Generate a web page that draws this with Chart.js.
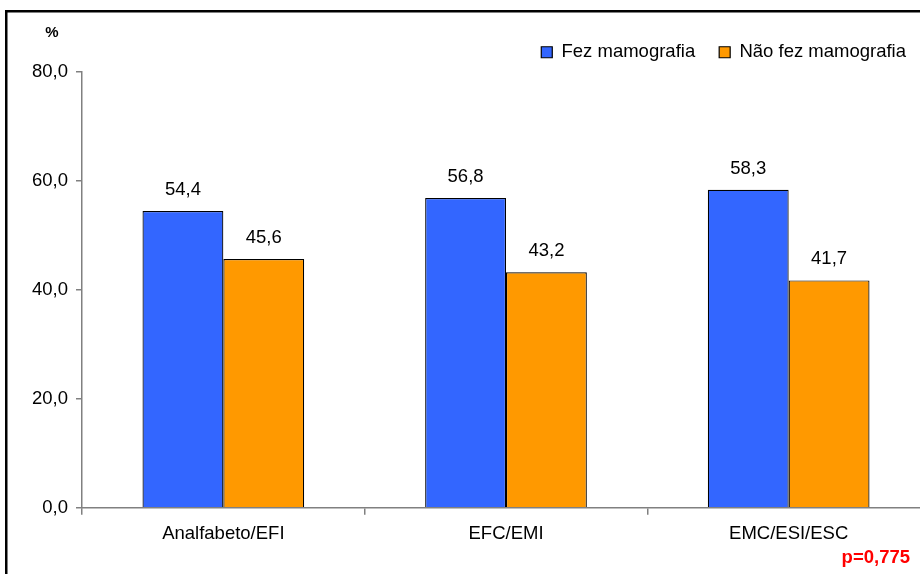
<!DOCTYPE html>
<html>
<head>
<meta charset="utf-8">
<script src="https://cdn.jsdelivr.net/npm/chart.js@4/dist/chart.umd.min.js"></script>
<style>
  html, body { margin: 0; padding: 0; background: #fff; overflow: hidden; }
  #wrap { width: 930px; height: 574px; position: relative; }
</style>
</head>
<body>
<div id="wrap"><canvas id="c"></canvas></div>
<script>
// Education level groups
const categories = ['Analfabeto/EFI', 'EFC/EMI', 'EMC/ESI/ESC'];
// Share of women (%) in each group
const fezMamografia = [54.4, 56.8, 58.3];
const naoFezMamografia = [45.6, 43.2, 41.7];
const seriesNames = ['Fez mamografia', 'Não fez mamografia'];
const yTicks = [0, 20, 40, 60, 80];
const axisUnit = '%';
const pValue = 'p=0,775';

const FONT = '"Liberation Sans", Arial, sans-serif';
const TEXT_SIZE = 18.5;
const fmt = v => v.toFixed(1).replace('.', ',');

// White background plus the black frame around the figure
const framePlugin = {
  id: 'frame',
  beforeDraw(chart) {
    const ctx = chart.ctx;
    ctx.save();
    ctx.fillStyle = '#fff';
    ctx.fillRect(0, 0, chart.width, chart.height);
    ctx.strokeStyle = '#000';
    ctx.lineWidth = 2.5;
    ctx.strokeRect(6.25, 11.25, chart.width + 20, chart.height + 20);
    ctx.restore();
  }
};

// Value labels above the bars, the unit label and the p-value note
const labelsPlugin = {
  id: 'valueLabels',
  afterDatasetsDraw(chart) {
    const ctx = chart.ctx;
    ctx.save();
    ctx.font = TEXT_SIZE + 'px ' + FONT;
    ctx.fillStyle = '#000';
    ctx.textAlign = 'center';
    ctx.textBaseline = 'middle';
    chart.data.datasets.forEach((ds, di) => {
      chart.getDatasetMeta(di).data.forEach((bar, i) => {
        ctx.fillText(fmt(ds.data[i]), bar.x, bar.y - 21);
      });
    });
    ctx.font = 'bold 15px ' + FONT;
    ctx.fillText(axisUnit, 52, 33);
    ctx.font = 'bold 18.5px ' + FONT;
    ctx.fillStyle = '#ff0000';
    ctx.textAlign = 'right';
    ctx.fillText(pValue, 910, 558);
    ctx.restore();
  }
};

new Chart(document.getElementById('c'), {
  type: 'bar',
  data: {
    labels: categories,
    datasets: [
      {
        label: seriesNames[0],
        data: fezMamografia,
        backgroundColor: '#3366ff',
        borderColor: '#000',
        borderWidth: 1.2
      },
      {
        label: seriesNames[1],
        data: naoFezMamografia,
        backgroundColor: '#ff9900',
        borderColor: '#000',
        borderWidth: 1.2
      }
    ]
  },
  options: {
    responsive: true,
    maintainAspectRatio: false,
    animation: false,
    devicePixelRatio: 1,
    layout: { padding: { left: 24, right: 0, top: 19, bottom: 21 } },
    datasets: {
      bar: { categoryPercentage: 0.572, barPercentage: 1.0 }
    },
    plugins: {
      legend: {
        position: 'top',
        align: 'end',
        labels: {
          boxWidth: 11,
          boxHeight: 11,
          padding: 24,
          color: '#000',
          font: { family: FONT, size: TEXT_SIZE }
        }
      },
      tooltip: { enabled: false }
    },
    scales: {
      x: {
        grid: {
          display: true,
          drawOnChartArea: false,
          drawTicks: true,
          tickLength: 7,
          offset: true,
          color: '#808080',
          lineWidth: 1.5
        },
        border: { display: true, color: '#808080', width: 1.5 },
        ticks: {
          color: '#000',
          padding: 8,
          font: { family: FONT, size: TEXT_SIZE }
        }
      },
      y: {
        min: yTicks[0],
        max: yTicks[yTicks.length - 1],
        afterBuildTicks(scale) {
          scale.ticks = yTicks.map(v => ({ value: v }));
        },
        grid: {
          display: true,
          drawOnChartArea: false,
          drawTicks: true,
          tickLength: 6,
          color: '#808080',
          lineWidth: 1.5
        },
        border: { display: true, color: '#808080', width: 1.5 },
        ticks: {
          color: '#000',
          padding: 8,
          font: { family: FONT, size: TEXT_SIZE },
          callback: v => fmt(v)
        }
      }
    }
  },
  plugins: [framePlugin, labelsPlugin]
});
</script>
</body>
</html>
